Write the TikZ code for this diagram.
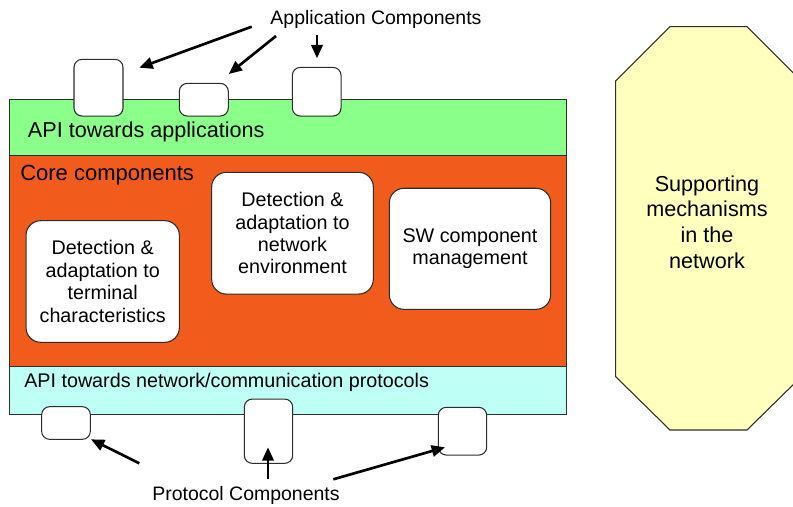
\documentclass[tikz,border=0pt]{standalone}
\usepackage{fontspec}
\setmainfont{Liberation Sans}
\usetikzlibrary{arrows.meta}
\definecolor{bandgreen}{RGB}{138,255,138}
\definecolor{bandorange}{RGB}{241,92,28}
\definecolor{bandcyan}{RGB}{190,255,246}
\definecolor{supyellow}{RGB}{255,255,190}
\definecolor{edgegray}{RGB}{45,45,45}
\tikzset{
  band/.style={draw=edgegray, line width=0.8pt},
  smallbox/.style={draw=edgegray, fill=white, line width=0.8pt, rounded corners=6pt, inner sep=0pt, outer sep=0pt},
  corebox/.style={draw=edgegray, fill=white, line width=0.8pt, rounded corners=11pt, inner sep=0pt, outer sep=0pt, align=center, font=\fontsize{14.8pt}{16.8pt}\selectfont},
  lbl/.style={inner sep=0pt, font=\fontsize{14.6pt}{17pt}\selectfont},
  arr/.style={line width=2pt, -{Triangle[length=10pt,width=8.5pt]}},
}
\begin{document}
\begin{tikzpicture}[x=0.75pt,y=-0.75pt]
\useasboundingbox (0,0) rectangle (793,507);
\begin{scope}
\clip (0,0) rectangle (793,507);
% supporting mechanisms octagon
\draw[band, fill=supyellow] (670,26.7) -- (747,26.7) -- (801.3,81) -- (801.3,376.7) -- (747,430) -- (670,430) -- (615.7,376.7) -- (615.7,81) -- cycle;
\end{scope}
\node[align=center, inner sep=0pt, font=\fontsize{16.2pt}{19.2pt}\selectfont] (sup) at (707,222) {Supporting\\mechanisms\\in the\\network};
% bands
\draw[band, fill=bandgreen] (9.3,99.3) rectangle (566.7,155.7);
\draw[band, fill=bandorange] (9.3,155.7) rectangle (566.7,366.7);
\draw[band, fill=bandcyan] (9.3,366.7) rectangle (566.7,414.3);
\node[anchor=west, inner sep=0pt, font=\fontsize{16.2pt}{19pt}\selectfont] (apiapp) at (27.7,131.5) {API towards applications};
\node[anchor=west, inner sep=0pt, font=\fontsize{16.5pt}{19pt}\selectfont] (core) at (20,175) {Core components};
\node[anchor=west, inner sep=0pt, font=\fontsize{14.8pt}{17pt}\selectfont] (apinet) at (24,382) {API towards network/communication protocols};
% core boxes
\node[corebox, minimum width=115pt, minimum height=91.2pt] (term) at (102.7,281.5) {Detection \&\\adaptation to\\terminal\\characteristics};
\node[corebox, minimum width=121.2pt, minimum height=91.3pt] (netenv) at (292.5,233.2) {Detection \&\\adaptation to\\network\\environment};
\node[corebox, minimum width=121pt, minimum height=90.8pt] (swm) at (470,248.8) {SW component\\management};
% application component boxes
\node[smallbox, minimum width=36.75pt, minimum height=42.5pt] (app1) at (98.5,87.7) {};
\node[smallbox, minimum width=36.75pt, minimum height=24.5pt] (app2) at (203.8,99.7) {};
\node[smallbox, minimum width=36.5pt, minimum height=36.5pt] (app3) at (316.7,91.7) {};
% protocol component boxes
\node[smallbox, minimum width=36.5pt, minimum height=24.5pt] (prot1) at (66,423) {};
\node[smallbox, minimum width=36.3pt, minimum height=48.2pt] (prot2) at (268.5,431.2) {};
\node[smallbox, minimum width=36.3pt, minimum height=35.8pt] (prot3) at (462.5,431.2) {};
% labels
\node[lbl] (applbl) at (376,19) {Application Components};
\node[lbl] (protlbl) at (246,495) {Protocol Components};
% arrow end points
\coordinate (a1t) at (251.7,26.7);
\coordinate (a1h) at (139.3,67.7);
\coordinate (a2t) at (276,36);
\coordinate (a2h) at (228.7,74);
\coordinate (a3t) at (317,35);
\coordinate (a3h) at (317,58.3);
\coordinate (p1t) at (139.3,463.3);
\coordinate (p1h) at (91,439.3);
\coordinate (p2t) at (268,479.3);
\coordinate (p2h) at (268,447.3);
\coordinate (p3t) at (333.3,479.3);
\coordinate (p3h) at (445,447.3);
\draw[arr] (a1t) -- (a1h);
\draw[arr] (a2t) -- (a2h);
\draw[arr] (a3t) -- (a3h);
\draw[arr] (p1t) -- (p1h);
\draw[arr] (p2t) -- (p2h);
\draw[arr] (p3t) -- (p3h);
\end{tikzpicture}
\end{document}
